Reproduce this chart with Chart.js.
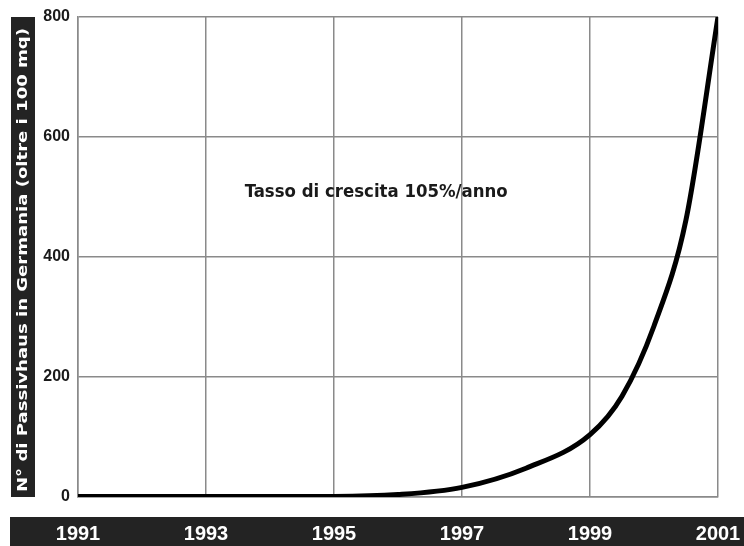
<!DOCTYPE html>
<html>
<head>
<meta charset="utf-8">
<script src="https://cdn.jsdelivr.net/npm/chart.js@4.4.0/dist/chart.umd.min.js"></script>
<style>
  html, body { margin: 0; padding: 0; background: #fff; }
  #wrap { width: 744px; height: 546px; }
</style>
</head>
<body>
<div id="wrap"><canvas id="myChart"></canvas></div>
<script>
// values
var years  = [1991, 1992, 1993, 1994, 1995, 1996, 1997, 1998, 1999, 1999.5, 2000, 2000.5, 2001];
var houses = [1, 1, 1, 1, 1, 4, 16, 48, 104, 168, 285, 462, 800];
var tickYears = [1991, 1993, 1995, 1997, 1999, 2001];
var yTicks = [0, 200, 400, 600, 800];
var yTitle = "N° di Passivhaus in Germania (oltre i 100 mq)";
var note = "Tasso di crescita 105%/anno";

var narrow = "'Liberation Sans Narrow', 'DejaVu Sans Condensed', sans-serif";
var sans = "'Liberation Sans', Arial, sans-serif";

var points = [];
for (var i = 0; i < years.length; i++) points.push({x: years[i], y: houses[i]});

// draw text so it fills a given length
function fitText(ctx, text, cx, cy, len, rot) {
  ctx.save();
  ctx.translate(cx, cy);
  ctx.rotate(rot);
  var w = ctx.measureText(text).width;
  ctx.scale(len / w, 1);
  ctx.textAlign = 'center';
  ctx.textBaseline = 'middle';
  ctx.fillText(text, 0, 0);
  ctx.restore();
}

var bands = {
  id: 'bands',
  beforeDraw: function (chart) {
    var ctx = chart.ctx, a = chart.chartArea;
    ctx.save();
    ctx.fillStyle = '#232323';
    ctx.fillRect(10, a.bottom + 20, chart.width - 10, chart.height - a.bottom - 20);
    ctx.fillRect(11, a.top, 24, a.bottom - a.top);
    ctx.restore();
  },
  afterDraw: function (chart) {
    var ctx = chart.ctx, a = chart.chartArea;
    ctx.fillStyle = '#fff';
    ctx.font = "bold 14px " + narrow;
    fitText(ctx, yTitle, 23, (a.top + a.bottom) / 2 + 3, 464, -Math.PI / 2);
    ctx.fillStyle = '#1a1a1a';
    ctx.font = "bold 17px " + narrow;
    fitText(ctx, note, chart.scales.x.getPixelForValue(1995.66), chart.scales.y.getPixelForValue(508), 263, 0);
  }
};

var ctx_live = document.getElementById("myChart");
var myChart = new Chart(ctx_live, {
  type: 'line',
  data: {
    datasets: [{
      data: points,
      borderColor: '#000',
      borderWidth: 5,
      pointRadius: 0,
      fill: false,
      cubicInterpolationMode: 'monotone'
    }]
  },
  options: {
    responsive: true,
    maintainAspectRatio: false,
    animation: false,
    layout: { padding: { top: 17, right: 26, left: 0, bottom: 0 } },
    plugins: { legend: { display: false }, tooltip: { enabled: false } },
    scales: {
      x: {
        type: 'linear',
        min: tickYears[0],
        max: tickYears[tickYears.length - 1],
        afterBuildTicks: function (s) { s.ticks = tickYears.map(function (v) { return {value: v}; }); },
        afterFit: function (s) { s.height = 49; s.paddingLeft = 0; s.paddingRight = 0; },
        grid: { color: '#8a8a8a', lineWidth: 1.5, drawTicks: false },
        border: { color: '#8a8a8a', width: 1.5 },
        ticks: {
          padding: 25,
          maxRotation: 0,
          color: '#fff',
          font: { family: sans, size: 20, weight: 'bold' },
          callback: function (v) { return String(v); }
        }
      },
      y: {
        min: 0,
        max: 800,
        afterBuildTicks: function (s) { s.ticks = yTicks.map(function (v) { return {value: v}; }); },
        afterFit: function (s) { s.width = 78; s.paddingTop = 0; s.paddingBottom = 0; },
        grid: { color: '#8a8a8a', lineWidth: 1.5, drawTicks: false },
        border: { color: '#8a8a8a', width: 1.5 },
        ticks: {
          padding: 8,
          color: '#1a1a1a',
          font: { family: sans, size: 16, weight: 'bold' }
        }
      }
    }
  },
  plugins: [bands]
});
</script>
</body>
</html>
